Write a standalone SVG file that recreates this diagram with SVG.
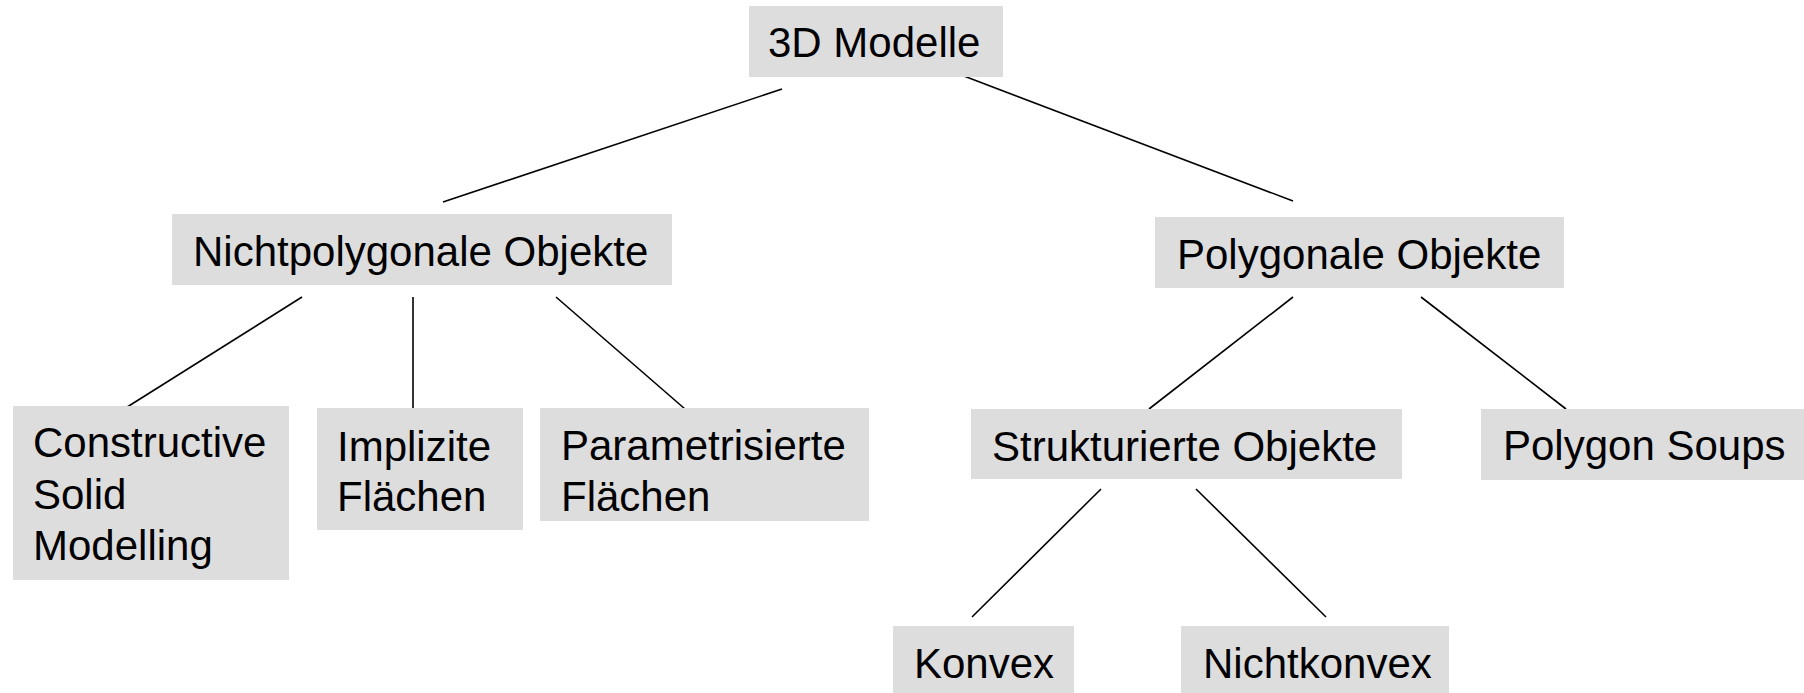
<svg xmlns="http://www.w3.org/2000/svg" width="1804" height="693" viewBox="0 0 1804 693">
<style>
.box{fill:#dddddd}
.t{font-family:"Liberation Sans",Arial,sans-serif;font-size:42px;fill:#000}
.c line{stroke:#000;stroke-width:1.6}
</style>
<rect width="1804" height="693" fill="#fff"/>
<g class="c" id="connectors">
<line x1="782" y1="89" x2="443" y2="202"/>
<line x1="956" y1="73" x2="1293" y2="201"/>
<line x1="302" y1="297" x2="124" y2="409"/>
<line x1="413" y1="297" x2="413" y2="409"/>
<line x1="556" y1="297" x2="685" y2="409"/>
<line x1="1293" y1="297" x2="1149" y2="409"/>
<line x1="1421" y1="297" x2="1566" y2="409"/>
<line x1="1101" y1="489" x2="972" y2="617"/>
<line x1="1196" y1="489" x2="1326" y2="617"/>
</g>
<g id="n-3d">
<rect class="box" x="749" y="6" width="254" height="71"/>
<text class="t" x="768" y="57">3D Modelle</text>
</g>
<g id="n-nichtpoly">
<rect class="box" x="172" y="214" width="500" height="71"/>
<text class="t" x="193" y="266">Nichtpolygonale Objekte</text>
</g>
<g id="n-poly">
<rect class="box" x="1155" y="217" width="409" height="71"/>
<text class="t" x="1177" y="269">Polygonale Objekte</text>
</g>
<g id="n-csg">
<rect class="box" x="13" y="406" width="276" height="174"/>
<text class="t" x="33" y="457">Constructive</text>
<text class="t" x="33" y="509">Solid</text>
<text class="t" x="33" y="560">Modelling</text>
</g>
<g id="n-impl">
<rect class="box" x="317" y="408" width="206" height="122"/>
<text class="t" x="337" y="461">Implizite</text>
<text class="t" x="337" y="511">Flächen</text>
</g>
<g id="n-param">
<rect class="box" x="540" y="408" width="329" height="113"/>
<text class="t" x="561" y="460">Parametrisierte</text>
<text class="t" x="561" y="511">Flächen</text>
</g>
<g id="n-struct">
<rect class="box" x="971" y="409" width="431" height="70"/>
<text class="t" x="992" y="461">Strukturierte Objekte</text>
</g>
<g id="n-soups">
<rect class="box" x="1481" y="409" width="323" height="71"/>
<text class="t" x="1503" y="460">Polygon Soups</text>
</g>
<g id="n-konvex">
<rect class="box" x="893" y="626" width="181" height="67"/>
<text class="t" x="914" y="678">Konvex</text>
</g>
<g id="n-nichtkonvex">
<rect class="box" x="1181" y="626" width="268" height="67"/>
<text class="t" x="1203" y="678">Nichtkonvex</text>
</g>
</svg>
